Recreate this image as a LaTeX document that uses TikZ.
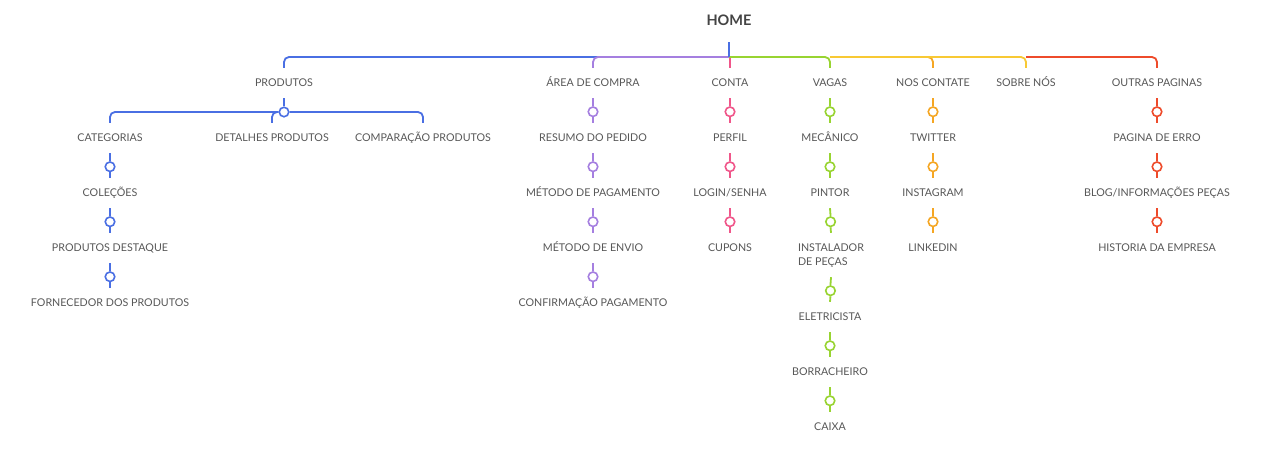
\documentclass[tikz,border=0pt]{standalone}
\usepackage{fontspec}
\setmainfont{Lato}
\usetikzlibrary{calc}
\definecolor{cblue}{HTML}{4A6FE3}
\definecolor{cpurple}{HTML}{A57FE0}
\definecolor{cpink}{HTML}{F0568A}
\definecolor{cgreen}{HTML}{98D431}
\definecolor{corange}{HTML}{F5A623}
\definecolor{cyellow}{HTML}{F8C934}
\definecolor{cred}{HTML}{EE4B2B}
\definecolor{ctext}{HTML}{585858}
\definecolor{chome}{HTML}{444444}
\newcommand\mylink[4]{%
  \node[knot,draw=#1] (#3) at ($(#2.south)!0.55!(#4.north)$) {};
  \draw[ln,#1] (#2.south) -- (#3.north);
  \draw[ln,#1] (#3.south) -- (#4.north);}
\begin{document}
\begin{tikzpicture}[x=1pt,y=-1pt,
  lbl/.style={text=ctext, font=\fontsize{10.7}{14}\selectfont, text height=7pt, text depth=0pt, inner xsep=0pt, inner ysep=0pt, minimum height=30pt},
  knot/.style={circle, fill=white, line width=1.6pt, minimum size=9.5pt, inner sep=0pt},
  ln/.style={line width=1.8pt},
  br/.style={line width=1.8pt, rounded corners=5pt}]
\useasboundingbox[fill=white] (0,0) rectangle (1280,473);
% top
\node[text=chome, font=\bfseries\fontsize{14.5}{16}\selectfont, text height=10pt, text depth=0pt, inner sep=0pt, minimum height=42pt] (home) at (729,21) {HOME};
\node[lbl] (produtos) at (284,83) {PRODUTOS};
\node[lbl] (area) at (593,83) {ÁREA DE COMPRA};
\node[lbl] (conta) at (730,83) {CONTA};
\node[lbl] (vagas) at (830,83) {VAGAS};
\node[lbl] (contate) at (933,83) {NOS CONTATE};
\node[lbl] (sobre) at (1026,83) {SOBRE NÓS};
\node[lbl] (outras) at (1157,83) {OUTRAS PAGINAS};
\coordinate (hub) at (729,57);
\draw[br,cblue] (hub) -| (produtos.north);
\draw[br,cpurple] (hub) -| (area.north);
\draw[ln,cpink] (conta.north |- hub) -- (conta.north);
\draw[br,cgreen] (hub) -| (vagas.north);
\draw[br,corange] (vagas.north |- hub) -| (contate.north);
\draw[br,cyellow] (vagas.north |- hub) -| (sobre.north);
\draw[br,cred] (sobre.north |- hub) -| (outras.north);
\draw[ln,cblue] (home.south) -- (hub);
% produtos
\node[lbl] (categorias) at (110,138) {CATEGORIAS};
\node[lbl] (detalhes) at (272,138) {DETALHES PRODUTOS};
\node[lbl] (comparacao) at (423,138) {COMPARAÇÃO PRODUTOS};
\node[knot,draw=cblue] (pc) at (284,112) {};
\draw[ln,cblue] (produtos.south) -- (pc.north);
\draw[br,cblue] (pc.west) -| (categorias.north);
\draw[br,cblue] (pc.east) -| (comparacao.north);
\draw[br,cblue] (pc.west) -| (detalhes.north);
\node[lbl] (colecoes) at (110,193) {COLEÇÕES};
\node[lbl] (destaque) at (110,248) {PRODUTOS DESTAQUE};
\node[lbl] (fornecedor) at (110,303) {FORNECEDOR DOS PRODUTOS};
\mylink{cblue}{categorias}{k11}{colecoes}
\mylink{cblue}{colecoes}{k12}{destaque}
\mylink{cblue}{destaque}{k13}{fornecedor}
% area de compra
\node[lbl] (resumo) at (593,138) {RESUMO DO PEDIDO};
\node[lbl] (pagamento) at (593,193) {MÉTODO DE PAGAMENTO};
\node[lbl] (envio) at (593,248) {MÉTODO DE ENVIO};
\node[lbl] (confirmacao) at (593,303) {CONFIRMAÇÃO PAGAMENTO};
\mylink{cpurple}{area}{k21}{resumo}
\mylink{cpurple}{resumo}{k22}{pagamento}
\mylink{cpurple}{pagamento}{k23}{envio}
\mylink{cpurple}{envio}{k24}{confirmacao}
% conta
\node[lbl] (perfil) at (730,138) {PERFIL};
\node[lbl] (login) at (730,193) {LOGIN/SENHA};
\node[lbl] (cupons) at (730,248) {CUPONS};
\mylink{cpink}{conta}{k31}{perfil}
\mylink{cpink}{perfil}{k32}{login}
\mylink{cpink}{login}{k33}{cupons}
% vagas
\node[lbl] (mecanico) at (830,138) {MECÂNICO};
\node[lbl] (pintor) at (830,193) {PINTOR};
\node[lbl, text depth=14pt, minimum height=44pt] (instalador) at (831,255) {\vtop{\baselineskip=14pt\hbox{INSTALADOR}\hbox{DE PEÇAS}}};
\node[lbl] (eletricista) at (830,317) {ELETRICISTA};
\node[lbl] (borracheiro) at (830,372) {BORRACHEIRO};
\node[lbl] (caixa) at (830,427) {CAIXA};
\mylink{cgreen}{vagas}{k41}{mecanico}
\mylink{cgreen}{mecanico}{k42}{pintor}
\mylink{cgreen}{pintor}{k43}{instalador}
\mylink{cgreen}{instalador}{k44}{eletricista}
\mylink{cgreen}{eletricista}{k45}{borracheiro}
\mylink{cgreen}{borracheiro}{k46}{caixa}
% nos contate
\node[lbl] (twitter) at (933,138) {TWITTER};
\node[lbl] (instagram) at (933,193) {INSTAGRAM};
\node[lbl] (linkedin) at (933,248) {LINKEDIN};
\mylink{corange}{contate}{k51}{twitter}
\mylink{corange}{twitter}{k52}{instagram}
\mylink{corange}{instagram}{k53}{linkedin}
% outras paginas
\node[lbl] (erro) at (1157,138) {PAGINA DE ERRO};
\node[lbl] (blog) at (1157,193) {BLOG/INFORMAÇÕES PEÇAS};
\node[lbl] (historia) at (1157,248) {HISTORIA DA EMPRESA};
\mylink{cred}{outras}{k61}{erro}
\mylink{cred}{erro}{k62}{blog}
\mylink{cred}{blog}{k63}{historia}
\end{tikzpicture}
\end{document}
